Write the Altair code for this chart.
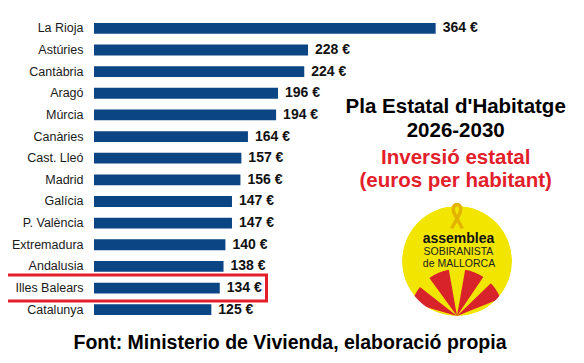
import altair as alt
import pandas as pd

regions = ["La Rioja", "Astúries", "Cantàbria", "Aragó", "Múrcia", "Canàries",
           "Cast. Lleó", "Madrid", "Galícia", "P. València", "Extremadura",
           "Andalusia", "Illes Balears", "Catalunya"]
values = [364, 228, 224, 196, 194, 164, 157, 156, 147, 147, 140, 138, 134, 125]

title_lines = ["Pla Estatal d'Habitatge", "2026-2030"]
subtitle_lines = ["Inversió estatal", "(euros per habitant)"]
source_text = "Font: Ministerio de Vivienda, elaboració propia"
highlight = "Illes Balears"
logo_lines = ["assemblea", "SOBIRANISTA", "de MALLORCA"]
ray_start = [-74, -36, 10, 46]
ray_end = [-52, -10, 34, 68]

df = pd.DataFrame({"region": regions, "value": values})
df["label"] = df["value"].astype(str) + " €"

FONT = "Liberation Sans"
W, H = 482, 303

y = alt.Y("region:N", sort=regions,
          scale=alt.Scale(paddingInner=0.5, paddingOuter=0.25),
          axis=alt.Axis(title=None, ticks=False, domain=False, labelFont=FONT,
                        labelFontSize=12.5, labelColor="#1a1a1a", labelPadding=11))
x = alt.X("value:Q", scale=alt.Scale(domain=[0, 513.5]), axis=None)

base = alt.Chart(df)
bars = base.mark_bar(color="#0b4584").encode(x=x, y=y)
vals = base.mark_text(align="left", baseline="middle", dx=7, font=FONT, fontSize=14,
                      fontWeight="bold", color="#111111").encode(x=x, y=y, text="label:N")
hl = alt.Chart(df[df.region == highlight]).mark_bar(
    height=26, fillOpacity=0, stroke="#e3202a", strokeWidth=3
).encode(x=alt.value(-88.5), x2=alt.value(172.5), y=y)


def one(txt):
    return alt.Chart(pd.DataFrame({"t": [txt]}))


def label(txt, px, py, size, color, weight="bold"):
    return one(txt).mark_text(font=FONT, fontSize=size, fontWeight=weight, color=color,
                              align="center", baseline="middle").encode(
        x=alt.value(px), y=alt.value(py), text="t:N")


CX, CY = 363, 243.5
circle = one("c").mark_point(shape="circle", size=12100, filled=True, color="#f2e600",
                             opacity=1, strokeWidth=0).encode(x=alt.value(CX), y=alt.value(CY))
rays = alt.Chart(pd.DataFrame({"start": ray_start, "end": ray_end})).transform_calculate(
    t0="datum.start*PI/180", t1="datum.end*PI/180"
).mark_arc(radius=47, color="#d8232a").encode(
    theta=alt.Theta("t0:Q", scale=None), theta2="t1:Q",
    x=alt.value(CX), y=alt.value(CY + 55))
ring = one("r").mark_point(shape="circle", size=134 * 134, filled=False, stroke="white",
                           strokeWidth=24, opacity=1).encode(x=alt.value(CX), y=alt.value(CY))
ribbon_path = ("M -0.45 1 L 0.15 -0.1 C 0.45 -0.6 0.3 -1 0 -1 "
               "C -0.3 -1 -0.45 -0.6 -0.15 -0.1 L 0.45 1")
ribbon = one("b").mark_point(shape=ribbon_path, size=576, filled=False, stroke="#e2b400",
                             strokeWidth=3.5, opacity=1).encode(x=alt.value(CX), y=alt.value(199))

logo_txt = [
    label(logo_lines[0], 364.5, 221.5, 14, "#111111"),
    label(logo_lines[1], 364.4, 234.5, 10.5, "#222222", "normal"),
    label(logo_lines[2], 365, 246.5, 10.5, "#222222", "normal"),
]

titles = [
    label(title_lines[0], 361.7, 89.5, 20.5, "#000000"),
    label(title_lines[1], 361.7, 113, 20.5, "#000000"),
    label(subtitle_lines[0], 361.7, 140, 20.5, "#e3202a"),
    label(subtitle_lines[1], 361.7, 163, 20.5, "#e3202a"),
]
footer = label(source_text, 196, 325.5, 19.5, "#000000")

chart = alt.layer(bars, vals, hl, circle, rays, ring, ribbon, *logo_txt, *titles, footer).properties(
    width=W, height=H,
    autosize=alt.AutoSizeParams(type="none"),
    padding={"left": 86, "top": 9.5, "right": 0, "bottom": 42},
    background="white",
).configure_view(stroke=None)

chart.save("out.html", embed_options={"renderer": "svg", "actions": False})
